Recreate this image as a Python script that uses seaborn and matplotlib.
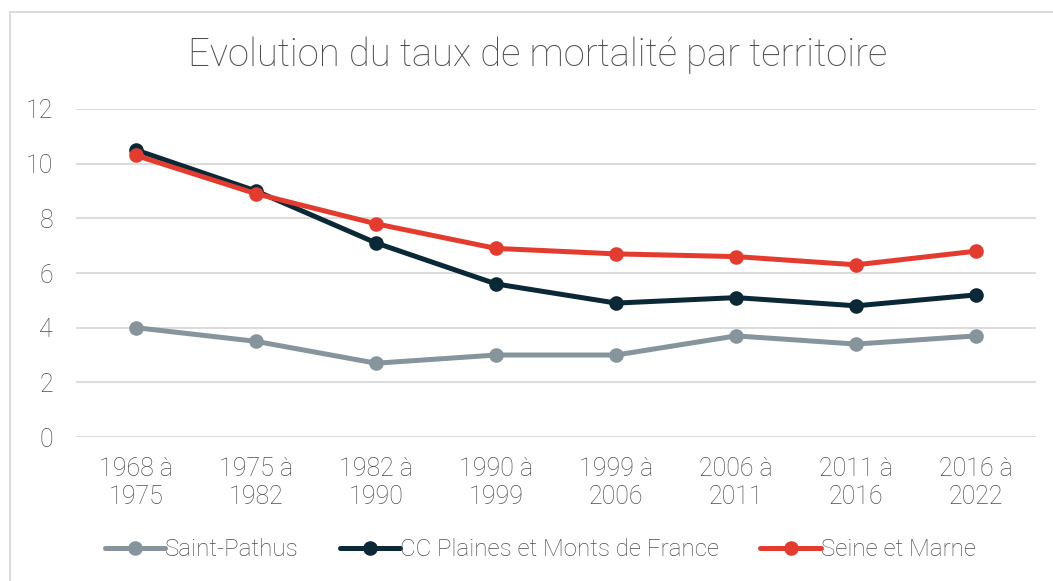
import pandas as pd
import matplotlib.pyplot as plt
import seaborn as sns
from matplotlib.lines import Line2D

# Data
periods = ["1968 à\n1975", "1975 à\n1982", "1982 à\n1990", "1990 à\n1999",
           "1999 à\n2006", "2006 à\n2011", "2011 à\n2016", "2016 à\n2022"]
saint_pathus = [4.0, 3.5, 2.7, 3.0, 3.0, 3.7, 3.4, 3.7]
cc_plaines = [10.5, 9.0, 7.1, 5.6, 4.9, 5.1, 4.8, 5.2]
seine_marne = [10.3, 8.9, 7.8, 6.9, 6.7, 6.6, 6.3, 6.8]

series_names = ["Saint-Pathus", "CC Plaines et Monts de France", "Seine et Marne"]
colors = ["#86949C", "#0B2837", "#E43B2F"]

data = pd.DataFrame({
    "periode": periods * 3,
    "taux": saint_pathus + cc_plaines + seine_marne,
    "territoire": [series_names[0]] * 8 + [series_names[1]] * 8 + [series_names[2]] * 8,
})

sns.set_style("white")
plt.rcParams['font.family'] = ['Roboto', 'DejaVu Sans']
plt.rcParams['font.weight'] = 'light'
text_color = "#4D4D4D"

fig = plt.figure(figsize=(10.53, 5.81), dpi=100)
ax = fig.add_axes([0.0722, 0.2478, 0.9118, 0.5646])

sns.lineplot(
    data=data, x="periode", y="taux", hue="territoire",
    palette=dict(zip(series_names, colors)), marker="o",
    markersize=10.5, markeredgewidth=0, linewidth=3.6, sort=False,
    legend=False, ax=ax
)

ax.set_xlim(-0.5, 7.5)
ax.set_ylim(0, 12)
ax.set_yticks(range(0, 13, 2))
ax.grid(axis="y", color="#D9D9D9", linewidth=1.3)
ax.set_axisbelow(True)
for s in ax.spines.values():
    s.set_visible(False)
ax.set_xlabel("")
ax.set_ylabel("")
ax.tick_params(axis="both", length=0, labelsize=18, labelcolor=text_color)
ax.tick_params(axis="x", pad=14.5)
ax.tick_params(axis="y", pad=16.5)
for lbl in ax.get_xticklabels():
    lbl.set_linespacing(1.2)

fig.suptitle("Evolution du taux de mortalité par territoire",
             x=0.511, y=0.905, va="center", fontsize=27.5, color=text_color,
             fontweight="light")

# Legend
handles = [Line2D([], [], color=c, marker="o", markersize=10.5, linewidth=3.6,
                  markeredgewidth=0) for c in colors]
fig.legend(handles, series_names, loc="center", bbox_to_anchor=(0.513, 0.054),
           ncol=3, frameon=False, fontsize=17.4, labelcolor=text_color,
           handlelength=2.5, handletextpad=0.0, columnspacing=1.7)

# chart border (left and top)
fig.add_artist(Line2D([0.0095, 0.0095], [0, 0.979], color="#D9D9D9", linewidth=1.3,
                      transform=fig.transFigure))
fig.add_artist(Line2D([0.0095, 1.0], [0.979, 0.979], color="#D9D9D9", linewidth=1.3,
                      transform=fig.transFigure))

plt.savefig("out.png", dpi=100)
